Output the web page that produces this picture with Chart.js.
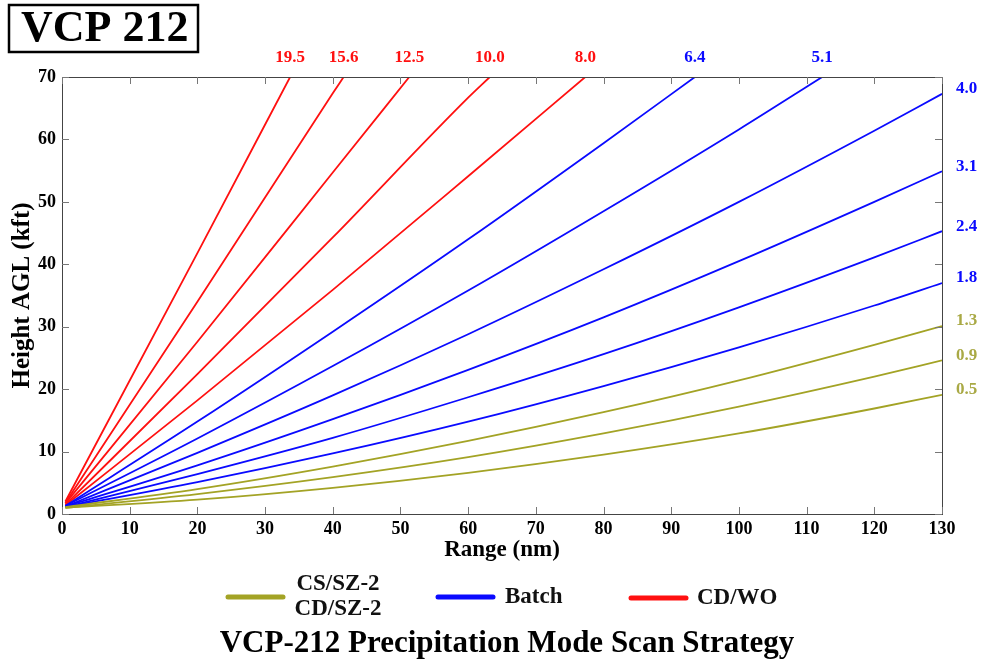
<!DOCTYPE html>
<html>
<head>
<meta charset="utf-8">
<script src="https://cdn.jsdelivr.net/npm/chart.js@4.4.0/dist/chart.umd.min.js"></script>
<style>
  body { margin: 0; background: #fff; }
  #wrap { width: 982px; height: 663px; position: relative; }
</style>
</head>
<body>
<div id="wrap"><canvas id="vcpChart" width="982" height="663"></canvas></div>
<script>
// elevation angles (deg) and the beam heights (kft AGL)
const rangeFull = [0.5, 20, 40, 60, 80, 100, 120, 130];
const h05 = [1.0, 2.3, 4.2, 6.6, 9.5, 12.9, 16.9, 19.1];
const h09 = [1.0, 3.2, 5.9, 9.1, 12.9, 17.2, 22.0, 24.6];
const h13 = [1.1, 4.0, 7.6, 11.7, 16.3, 21.4, 27.1, 30.1];
const h18 = [1.1, 5.1, 9.7, 14.8, 20.5, 26.7, 33.4, 37.0];
const h24 = [1.1, 6.4, 12.2, 18.7, 25.6, 33.1, 41.1, 45.3];
const h31 = [1.2, 7.8, 15.2, 23.1, 31.5, 40.5, 50.0, 54.9];
const h40 = [1.2, 9.8, 19.0, 28.8, 39.2, 50.0, 61.4, 67.3];

const range51 = [0.5, 20, 40, 60, 80, 100, 112.3];
const h51 = [1.3, 12.1, 23.7, 35.8, 48.5, 61.6, 70];
const range64 = [0.5, 20, 40, 60, 80, 93.5];
const h64 = [1.3, 14.8, 29.2, 44.0, 59.4, 70];
const range80 = [0.5, 20, 40, 60, 77.3];
const h80 = [1.4, 18.2, 35.9, 54.1, 70];
const range100 = [0.5, 20, 40, 60, 63.2];
const h100 = [1.5, 22.4, 44.3, 66.7, 70];
const range125 = [0.5, 20, 40, 51.3];
const h125 = [1.7, 27.6, 54.7, 70];
const range156 = [0.5, 20, 40, 41.6];
const h156 = [1.8, 34.0, 67.4, 70];
const range195 = [0.5, 20, 33.7];
const h195 = [2.0, 41.8, 70];

const OLIVE = '#a3a325';
const OLIVE_TXT = '#a9a945';
const BLUE = '#0a0aff';
const RED = '#ff1010';

// label, x, y, group
const beams = [
  ['0.5', rangeFull, h05, 'cs'],
  ['0.9', rangeFull, h09, 'cs'],
  ['1.3', rangeFull, h13, 'cs'],
  ['1.8', rangeFull, h18, 'batch'],
  ['2.4', rangeFull, h24, 'batch'],
  ['3.1', rangeFull, h31, 'batch'],
  ['4.0', rangeFull, h40, 'batch'],
  ['5.1', range51, h51, 'batch'],
  ['6.4', range64, h64, 'batch'],
  ['8.0', range80, h80, 'cd'],
  ['10.0', range100, h100, 'cd'],
  ['12.5', range125, h125, 'cd'],
  ['15.6', range156, h156, 'cd'],
  ['19.5', range195, h195, 'cd']
];
const lineColor = { cs: OLIVE, batch: BLUE, cd: RED };
const textColor = { cs: OLIVE_TXT, batch: BLUE, cd: RED };

const serif = '"Liberation Serif", "Times New Roman", serif';

const datasets = beams.map(b => ({
  label: b[0],
  data: b[1].map((r, i) => ({ x: r, y: b[2][i] })),
  borderColor: lineColor[b[3]],
  borderWidth: 1.8,
  pointRadius: 0,
  fill: false,
  cubicInterpolationMode: 'monotone',
  group: b[3]
}));

// frame, inward ticks, elevation labels, legend and captions
const decorations = {
  id: 'decorations',
  afterDraw(chart) {
    const ctx = chart.ctx;
    const a = chart.chartArea;
    const xs = chart.scales.x, ys = chart.scales.y;
    ctx.save();
    ctx.strokeStyle = '#444';
    ctx.lineWidth = 1;
    ctx.strokeRect(a.left + 0.5, a.top + 0.5, a.right - a.left, a.bottom - a.top);
    ctx.strokeStyle = '#777';
    xs.ticks.forEach(t => {
      const px = Math.round(xs.getPixelForValue(t.value)) + 0.5;
      ctx.beginPath();
      ctx.moveTo(px, a.bottom); ctx.lineTo(px, a.bottom - 7);
      ctx.moveTo(px, a.top); ctx.lineTo(px, a.top + 7);
      ctx.stroke();
    });
    ys.ticks.forEach(t => {
      const py = Math.round(ys.getPixelForValue(t.value)) + 0.5;
      ctx.beginPath();
      ctx.moveTo(a.left, py); ctx.lineTo(a.left + 7, py);
      ctx.moveTo(a.right, py); ctx.lineTo(a.right - 7, py);
      ctx.stroke();
    });

    // elevation labels
    ctx.font = 'bold 17px ' + serif;
    ctx.textBaseline = 'middle';
    chart.data.datasets.forEach((ds, i) => {
      const meta = chart.getDatasetMeta(i);
      const last = meta.data[meta.data.length - 1];
      ctx.fillStyle = textColor[ds.group];
      if (ds.data[ds.data.length - 1].y >= 70) {
        ctx.textAlign = 'center';
        ctx.fillText(ds.label, last.x, 58);
      } else {
        ctx.textAlign = 'left';
        ctx.fillText(ds.label, 956, last.y - 5);
      }
    });

    // VCP box
    ctx.font = 'bold 44px ' + serif;
    ctx.fillStyle = '#000';
    ctx.textAlign = 'left';
    ctx.textBaseline = 'middle';
    ctx.fillText('VCP 212', 21, 30);
    ctx.lineWidth = 2.5;
    ctx.strokeStyle = '#000';
    ctx.strokeRect(9, 5, 189, 47);

    // legend
    const legendItems = [
      [228, 283, 597, OLIVE, ['CS/SZ-2', 'CD/SZ-2'], 296],
      [438, 493, 597, BLUE, ['Batch'], 505],
      [631, 686, 598, RED, ['CD/WO'], 697]
    ];
    ctx.lineCap = 'round';
    ctx.font = 'bold 23px ' + serif;
    legendItems.forEach(it => {
      ctx.strokeStyle = it[3];
      ctx.lineWidth = 5;
      ctx.beginPath();
      ctx.moveTo(it[0], it[2]); ctx.lineTo(it[1], it[2]);
      ctx.stroke();
      ctx.fillStyle = '#111';
      if (it[4].length === 2) {
        ctx.textAlign = 'center';
        ctx.fillText(it[4][0], it[5] + 42, 584);
        ctx.fillText(it[4][1], it[5] + 42, 609);
      } else {
        ctx.textAlign = 'left';
        ctx.fillText(it[4][0], it[5], it[2]);
      }
    });

    // caption
    ctx.font = 'bold 31px ' + serif;
    ctx.textAlign = 'center';
    ctx.fillStyle = '#000';
    ctx.fillText('VCP-212 Precipitation Mode Scan Strategy', 507, 644);
    ctx.restore();
  }
};

new Chart(document.getElementById('vcpChart'), {
  type: 'line',
  data: { datasets: datasets },
  options: {
    responsive: false,
    animation: false,
    layout: { padding: { left: 0, top: 77, right: 40, bottom: 99 } },
    plugins: { legend: { display: false }, tooltip: { enabled: false } },
    scales: {
      x: {
        type: 'linear', min: 0, max: 130,
        grid: { display: false, drawTicks: false },
        border: { display: false },
        ticks: { stepSize: 10, padding: 5, color: '#000', font: { family: serif, size: 18, weight: 'bold' }, maxRotation: 0 },
        title: { display: true, text: 'Range (nm)', color: '#000', padding: 0, font: { family: serif, size: 23, weight: 'bold' } },
        afterFit(scale) { scale.height = 50; }
      },
      y: {
        type: 'linear', min: 0, max: 70,
        grid: { display: false, drawTicks: false },
        border: { display: false },
        ticks: { stepSize: 10, padding: 6, color: '#000', font: { family: serif, size: 18, weight: 'bold' } },
        title: { display: true, text: 'Height AGL (kft)', color: '#000', padding: { top: 8, bottom: 0 }, font: { family: serif, size: 25, weight: 'bold' } },
        afterFit(scale) { scale.width = 62; }
      }
    }
  },
  plugins: [decorations]
});
</script>
</body>
</html>
